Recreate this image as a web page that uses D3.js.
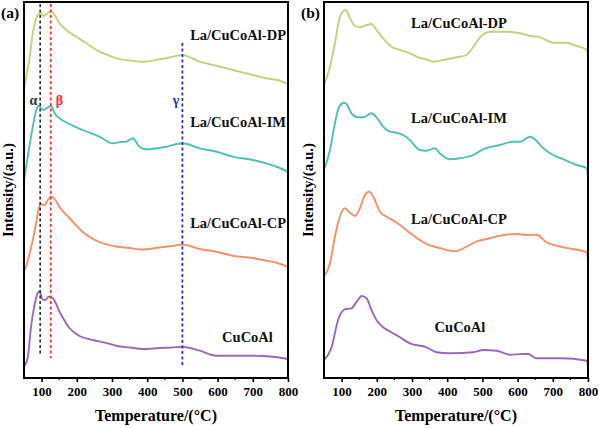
<!DOCTYPE html>
<html><head><meta charset="utf-8">
<script src="https://cdn.jsdelivr.net/npm/d3@7"></script>
<style>
body{margin:0;background:#fff;}
text{font-family:"Liberation Serif","Times New Roman",serif;font-weight:bold;}
</style></head>
<body><svg id="c" width="599" height="428"></svg>
<script>
// ---------- DATA ----------
const seriesNames = ["La/CuCoAl-DP","La/CuCoAl-IM","La/CuCoAl-CP","CuCoAl"];
const seriesColors = ["#b9d67a","#4fc2b2","#f7906a","#9a6ab8"];
const xTicks = [100,200,300,400,500,600,700,800];
const peakMarks = [ {label:"α", T:96, color:"#333333"}, {label:"β", T:126, color:"#ff2a2a"}, {label:"γ", T:500, color:"#2a2ad6"} ];

// Panel (a) — temperature (°C) and stacked intensity (a.u.)
const aDP_T = [50,60,65,75,85,91,97,105,118,127,137,151,170,200,227,264,288,312,350,388,435,470,500,549,600,643,700,738,770,800];
const aDP_I = [289.7,308,318,344.7,359.7,364,364.7,362,364.7,367.3,363,354.7,348,341,334.7,326.3,323,319.7,317.5,316.3,318.7,321,323,316.3,312,308,303,299.7,298,294];
const aIM_T = [50,60,65,75,85,91,97,105,118,127,137,151,179,217,264,302,325,340,359,378,397,454,500,549,600,643,700,738,770,800];
const aIM_I = [198,220,231.3,251.3,268,272,270.7,268,270.7,272,264.7,259.7,254,248,241.3,234.7,236,236.3,239.7,231.3,228.7,231.3,234.7,229.7,226,221.3,218,214.7,211,206];
const aCP_T = [50,60,65,75,85,91,97,108,118,127,141,151,179,217,264,312,350,388,435,470,500,549,600,643,700,738,770,800];
const aCP_I = [106,116,123,138,156,168,174,173,178,181.5,177,171,160,146,136,131.5,130,128.5,130.5,132,133.5,129,126,122.3,120,117.3,115,111];
const aCu_T = [50,61,70,80,89,94,103,111,120,132,151,179,208,245,288,312,350,388,435,470,500,549,596,643,700,757,800];
const aCu_I = [11.3,21.3,51.3,73,85,86.5,78.7,78,81.3,79.7,66.3,50,42,38,34.7,32.3,30.5,29,30,30.5,31.3,27.3,22.3,22.3,22.3,21.3,19];

// Panel (b)
const bDP_T = [50,67,81,93,103,112,124,138,152,171,185,199,218,242,266,294,313,340,361,389,427,455,470,484,500,522,569,607,635,664,702,739,768,797,800];
const bDP_I = [293,311.3,334.7,358,366.3,368,359.7,352,350.7,353,354,348,339.7,331.3,328,324.7,321.3,318.5,316.3,318,320.7,323,329,336.3,343,346.3,346.3,344.7,342,340.7,335.3,335.3,332,328,316.3];
const bIM_T = [50,67,81,93,107,114,128,147,162,185,199,218,237,256,275,294,322,341,365,379,408,436,474,502,550,588,607,635,649,673,701,730,768,797,800];
const bIM_I = [208,228,254.7,271.3,275.3,274,264.7,260.7,260.7,264.7,260.7,251.3,246.3,245.3,243,238,228,227.3,229.7,224.7,218.7,219.7,223,228.7,233,236.3,236.3,241.3,238.7,229.7,223,218.7,213,209.7,199];
const bCP_T = [50,67,81,95,109,124,138,152,166,178,190,209,228,256,294,341,379,422,455,484,512,550,597,626,654,682,730,797,800];
const bCP_I = [101.3,114.7,141.3,161.3,169.7,165.3,162,169.7,183,186.3,181.3,166.3,161.3,155.5,145,134,130,126.7,131.3,136.7,139,142.3,144,143,143.3,135.7,130.7,125.7,115.7];
const bCu_T = [50,72,90,109,128,143,157,171,185,199,218,240,266,294,341,370,408,474,502,540,578,616,630,654,720,797,800];
const bCu_I = [18,31.3,58,68.7,69.7,76.3,82,79.7,68,58,50.7,46,40.7,34.7,30.7,25.7,24.7,25.7,28,27.3,23.3,24,24,19.7,19.7,17.3,10.7];

// ---------- DRAW ----------
const svg = d3.select("#c");
const zip = (T,I)=>T.map((t,i)=>({t, v:I[i]}));
const yTop = 2, yBot = 378;
const y = d3.scaleLinear().domain([0,376]).range([yBot,yTop]);

function panel(x0, x1, tag, series, curve, labels, withMarks){
  const x = d3.scaleLinear().domain([50,800]).range([x0,x1]);
  const g = svg.append("g");
  const ax = g.append("g").attr("transform",`translate(0,${yBot})`)
    .call(d3.axisBottom(x).tickValues(xTicks).tickSize(4).tickSizeOuter(0).tickPadding(5));
  ax.select(".domain").remove();
  ax.selectAll(".tick line").attr("stroke","#000").attr("stroke-width",1.6);
  ax.selectAll(".tick text").attr("font-size",13).attr("fill","#000")
    .style("font-family",'"Liberation Serif",serif').style("font-weight","bold");
  const minor = d3.range(150,800,100);
  g.selectAll(".minor").data(minor).enter().append("line")
    .attr("x1",d=>x(d)).attr("x2",d=>x(d)).attr("y1",yBot).attr("y2",yBot+2)
    .attr("stroke","#000").attr("stroke-width",1.2);
  const line = d3.line().x(d=>x(d.t)).y(d=>y(d.v)).curve(curve);
  series.forEach((s,i)=>{
    g.append("path").datum(s).attr("d",line).attr("fill","none")
      .attr("stroke",seriesColors[i]).attr("stroke-width",1.9).attr("stroke-linejoin","round");
  });
  if(withMarks){
    const marks = [
      {m:peakMarks[0], y1:4, y2:355},
      {m:peakMarks[1], y1:4, y2:358},
      {m:peakMarks[2], y1:43, y2:366}
    ];
    marks.forEach(k=>{
      g.append("line").attr("x1",x(k.m.T)).attr("x2",x(k.m.T)).attr("y1",k.y1).attr("y2",k.y2)
        .attr("stroke",k.m.color).attr("stroke-width",1.7).attr("stroke-dasharray","3,2.5");
    });
    const gl = [{m:peakMarks[0],x:33.5},{m:peakMarks[1],x:59.5},{m:peakMarks[2],x:176}];
    gl.forEach(k=>{
      g.append("text").attr("x",k.x).attr("y",105).attr("text-anchor","middle")
        .attr("font-size",14).attr("fill",k.m.color).text(k.m.label);
    });
  }
  labels.forEach((l,i)=>{
    g.append("text").attr("x",l.x).attr("y",l.y).attr("text-anchor",l.anchor)
      .attr("font-size",14.5).attr("fill","#111").text(seriesNames[i]);
  });
  g.append("rect").attr("x",x0).attr("y",yTop).attr("width",x1-x0).attr("height",yBot-yTop)
    .attr("fill","none").attr("stroke","#000").attr("stroke-width",2);
  g.append("text").attr("x",(x0+x1)/2).attr("y",421).attr("text-anchor","middle")
    .attr("font-size",16).attr("fill","#000").text("Temperature/(°C)");
  g.append("text").attr("transform",`translate(${x0-11},190) rotate(-90)`).attr("text-anchor","middle")
    .attr("font-size",15).attr("fill","#000").text("Intensity/(a.u.)");
  g.append("text").attr("x",x0-23).attr("y",18).attr("font-size",15.5).attr("fill","#000").text(tag);
}

panel(24, 288, "(a)",
  [zip(aDP_T,aDP_I), zip(aIM_T,aIM_I), zip(aCP_T,aCP_I), zip(aCu_T,aCu_I)],
  d3.curveMonotoneX,
  [{x:286,y:40,anchor:"end"},{x:286,y:126.5,anchor:"end"},{x:286,y:228,anchor:"end"},{x:247.5,y:342,anchor:"middle"}],
  true);
panel(324, 588, "(b)",
  [zip(bDP_T,bDP_I), zip(bIM_T,bIM_I), zip(bCP_T,bCP_I), zip(bCu_T,bCu_I)],
  d3.curveMonotoneX,
  [{x:459,y:27.5,anchor:"middle"},{x:459,y:123,anchor:"middle"},{x:459,y:223.5,anchor:"middle"},{x:460,y:331.5,anchor:"middle"}],
  false);
</script></body></html>
